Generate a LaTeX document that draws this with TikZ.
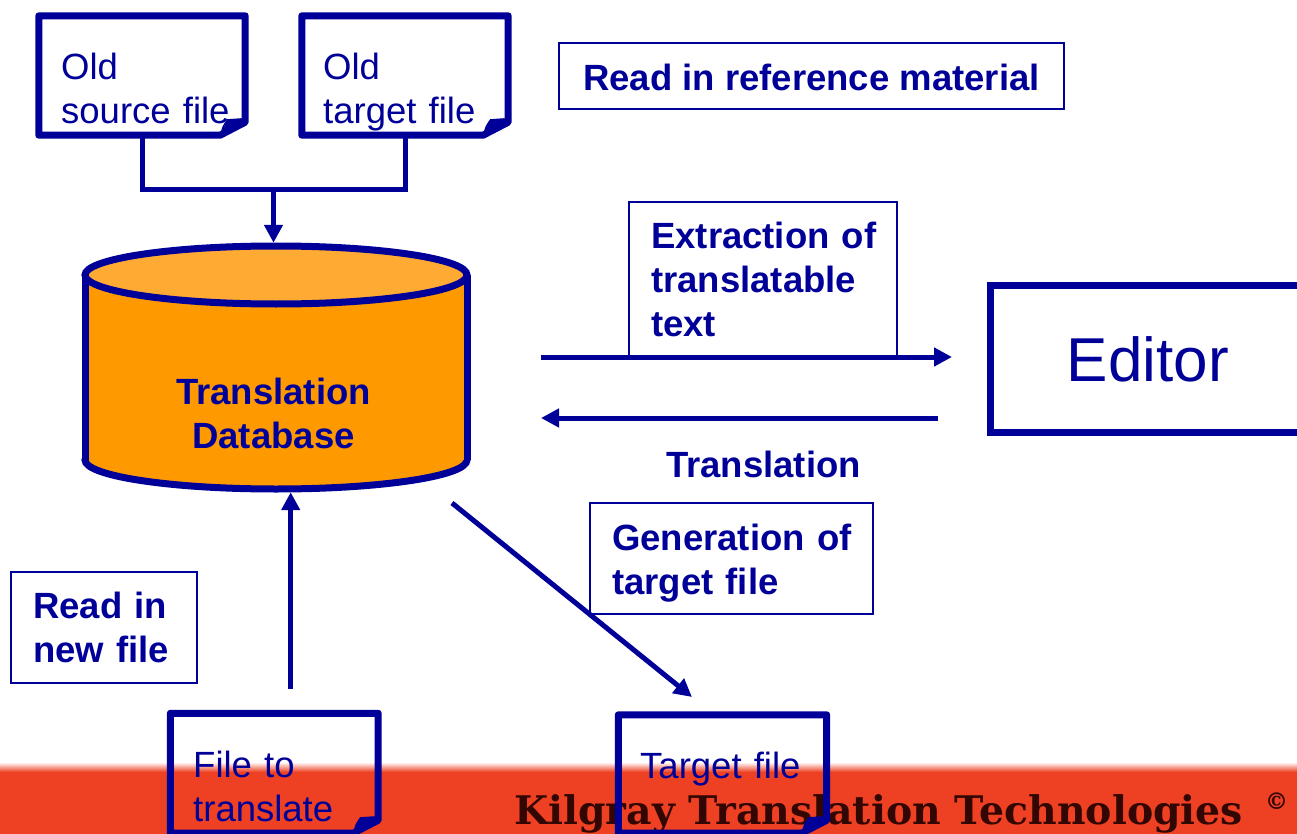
\documentclass[tikz,border=0pt]{standalone}
\usepackage{fontspec}
\setmainfont{Liberation Sans}
\newfontfamily\kfont{DejaVu Serif}
\usetikzlibrary{arrows.meta,calc}
\definecolor{dblue}{RGB}{0,0,153}
\definecolor{dbbody}{RGB}{255,153,0}
\definecolor{dbtop}{RGB}{255,170,51}
\definecolor{bandred}{RGB}{238,64,34}
\definecolor{kcol}{RGB}{50,6,3}
\newcommand\drawdoc[1]{%
  \draw[docline] (#1.north west) -- (#1.north east) -- ([yshift=13pt]#1.south east)
     -- ([xshift=-25pt]#1.south east) -- (#1.south west) -- cycle;
  \fill[dblue] ([xshift=-25pt]#1.south east)
     .. controls ([xshift=-23pt,yshift=9pt]#1.south east) .. ([xshift=-18pt,yshift=16pt]#1.south east)
     -- ([xshift=-4pt,yshift=17pt]#1.south east) -- ([yshift=13pt]#1.south east) -- cycle;}
\begin{document}
\begin{tikzpicture}[x=1pt,y=-1pt,
  conn/.style={draw=dblue, line width=5pt},
  arrowhd/.style={-{Triangle[length=18pt,width=18pt]}},
  docnode/.style={draw=none, rectangle, inner sep=0pt},
  docline/.style={draw=dblue, line width=7pt, line join=round},
  lblbox/.style={draw=dblue, line width=1.8pt, rectangle, inner sep=0pt},
  lbl/.style={text=dblue, font=\bfseries\fontsize{36.5}{44}\selectfont, anchor=base west, inner sep=0pt, text width=330pt, align=left},
  lblone/.style={text=dblue, font=\bfseries\fontsize{36.5}{44}\selectfont, anchor=base west, inner sep=0pt},
  lblc/.style={text=dblue, font=\bfseries\fontsize{36.5}{44}\selectfont, anchor=base, inner sep=0pt, text width=330pt, align=center},
  doctext/.style={text=dblue, font=\fontsize{36.5}{44}\selectfont, anchor=base west, inner sep=0pt, text width=230pt, align=left}]
\useasboundingbox (0,0) rectangle (1297,834);
\clip (0,0) rectangle (1297,834);
\fill[white] (0,0) rectangle (1297,834);

% bottom band
\shade[top color=white, bottom color=bandred] (0,762) rectangle (1297,772);
\fill[bandred] (0,771.5) rectangle (1297,834);
\node[anchor=base west, inner sep=0pt, text=kcol, font=\kfont\bfseries\fontsize{39.4}{42}\selectfont] (kil) at (514,824)
  {Kilgray Translation Technologies\hspace{22pt}\raisebox{15pt}{\fontsize{23}{23}\selectfont ©}};

% documents
\node[docnode, minimum width=206, minimum height=119] (src) at (142,75.5) {};
\node[docnode, minimum width=206, minimum height=119] (tgt) at (405,75.5) {};
\node[docnode, minimum width=207.5, minimum height=119.5] (newf) at (274.25,773.25) {};
\node[docnode, minimum width=208, minimum height=118] (tfile) at (722.5,774) {};
\drawdoc{src}
\drawdoc{tgt}
\drawdoc{newf}
\drawdoc{tfile}
\node[doctext] (srcT) at (61,80) {Old\\source file};
\node[doctext] (tgtT) at (323,80) {Old\\target file};
\node[doctext] (newfT) at (193,777) {File to\\translate};
\node[doctext] (tfileT) at (640,778) {Target file};

% database cylinder
\node[draw=none, rectangle, inner sep=0pt, minimum width=389, minimum height=249] (db) at (276,367.5) {};
\filldraw[fill=dbbody, draw=dblue, line width=7pt] (276,460) ellipse [x radius=191pt, y radius=29pt];
\fill[dbbody] (85,275) rectangle (467,460);
\draw[dblue, line width=7pt] (85,275) -- (85,460) (467,275) -- (467,460);
\filldraw[fill=dbtop, draw=dblue, line width=7pt] (276,275) ellipse [x radius=191pt, y radius=29pt];
\node[lblc] (dbT) at (273.5,404) {Translation\\Database};

% editor
\node[draw=dblue, line width=7pt, rectangle, inner sep=0pt, minimum width=314.5, minimum height=147,
      text=dblue, font=\fontsize{62}{70}\selectfont] (editor) at (1147.75,359) {Editor};

% label boxes
\node[lblbox, minimum width=505, minimum height=66] (refB) at (811.5,76) {};
\node[lblone] (refT) at (583,91) {Read in reference material};
\node[lblbox, minimum width=268, minimum height=155] (extB) at (763,279.5) {};
\node[lbl] (extT) at (651,248) {Extraction of\\translatable\\text};
\node[lblbox, minimum width=282.7, minimum height=111] (genB) at (731.35,558.5) {};
\node[lbl] (genT) at (612,550) {Generation of\\target file};
\node[lblbox, minimum width=186, minimum height=111] (newB) at (103.7,627.5) {};
\node[lbl] (newT) at (33,618) {Read in\\new file};
\node[text=dblue, font=\bfseries\fontsize{36.5}{44}\selectfont, anchor=base, inner sep=0pt] (trT) at (763.5,477) {Translation};

% connectors
\coordinate (j) at (273.5,190);
\draw[conn, line join=miter] (src.south) |- (j) -| (tgt.south);
\draw[conn, arrowhd] (j) -- (j |- db.north);
\coordinate (r0) at (541,357);
\coordinate (r1) at (952,357);
\draw[conn, arrowhd] (r0) -- (r1);
\coordinate (l0) at (938,418);
\coordinate (l1) at (541,418);
\draw[conn, arrowhd] (l0) -- (l1);
\coordinate (u0) at (290.7,689);
\draw[conn, arrowhd] (u0) -- (u0 |- db.south);
\coordinate (g0) at (452,503);
\coordinate (g1) at (692,697);
\draw[conn, arrowhd] (g0) -- (g1);
\end{tikzpicture}
\end{document}
